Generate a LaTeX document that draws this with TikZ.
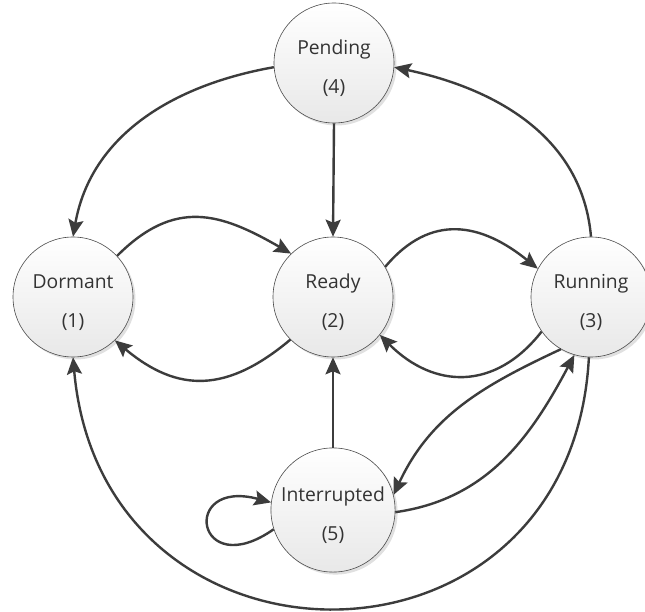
\documentclass[tikz,border=0pt]{standalone}
\usepackage{fontspec}
\setmainfont{Open Sans}
\usetikzlibrary{arrows.meta,shadows}
\definecolor{edgecol}{HTML}{3C3C3C}
\definecolor{rimcol}{HTML}{4A4A4A}
\definecolor{inkcol}{HTML}{333333}
\newcommand{\toprow}{\rule{0pt}{26pt}}
\begin{document}
\begin{tikzpicture}[x=1pt,y=1pt,
  state/.style={circle, draw=rimcol, line width=0.6pt, minimum size=120pt, inner sep=0pt,
    top color=white, bottom color=black!9, align=center,
    font=\fontsize{19.3}{23}\selectfont, text=inkcol,
    drop shadow={shadow xshift=2.5pt, shadow yshift=-2.5pt, fill=black!12, opacity=1}},
  link/.style={draw=edgecol, line width=2.4pt, -{Stealth[length=17pt,width=15pt,inset=3pt]}}]
\useasboundingbox (0,0) rectangle (645,611);
\fill[white] (0,0) rectangle (645,611);
\node[state] (pend) at (334,548) {\toprow Pending\\[16pt](4)};
\node[state] (dorm) at (73,314) {\toprow Dormant\\[16pt](1)};
\node[state] (ready) at (333,314) {\toprow Ready\\[16pt](2)};
\node[state] (run) at (591,314) {\toprow Running\\[16pt](3)};
\node[state] (intr) at (333,101) {\toprow Interrupted\\[16pt](5)};
% edges
\draw[link] (pend.184) to[out=190,in=80] (dorm.90);
\draw[link] (pend.south) -- (ready.north);
\draw[link] (run.90) to[out=95,in=-12] (pend.-4);
\draw[link] (dorm.43) to[out=45,in=150,looseness=1.2] (ready.134);
\draw[link] (ready.225) to[out=220,in=-40,looseness=1.2] (dorm.-46);
\draw[link] (ready.30) to[out=50,in=141,looseness=1.2] (run.152);
\draw[link] (run.215) to[out=232,in=-45,looseness=1.2] (ready.-39);
\draw[link] (run.240) to[out=205,in=65] (intr.14);
\draw[link] (intr.-2) to[out=8,in=242] (run.254);
\draw[link] (intr.north) -- (ready.south);
\draw[link] (intr.198) to[out=215,in=165,distance=95pt] (intr.173);
\draw[link] (run.268) to[out=-93,in=-85,distance=335pt] (dorm.270);
\end{tikzpicture}
\end{document}
